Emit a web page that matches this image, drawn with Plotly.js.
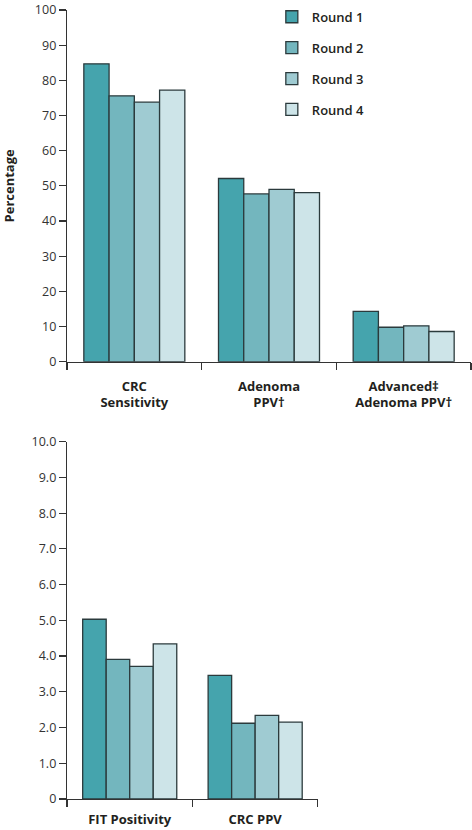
<!DOCTYPE html>
<html>
<head>
<meta charset="utf-8">
<script src="https://cdn.plot.ly/plotly-3.0.1.min.js"></script>
<style>html,body{margin:0;padding:0;background:#fff}#chart{width:472px;height:830px}</style>
</head>
<body>
<div id="chart"></div>
<script>
// Data
var roundNames = ["Round 1", "Round 2", "Round 3", "Round 4"];
var topCategories = ["CRC<br>Sensitivity", "Adenoma<br>PPV†", "Advanced‡<br>Adenoma PPV†"];
var topRound1 = [84.7, 52.1, 14.3];
var topRound2 = [75.6, 47.7, 9.8];
var topRound3 = [73.8, 49.0, 10.2];
var topRound4 = [77.2, 48.1, 8.6];
var bottomCategories = ["FIT Positivity", "CRC PPV"];
var bottomRound1 = [5.03, 3.46];
var bottomRound2 = [3.91, 2.12];
var bottomRound3 = [3.71, 2.34];
var bottomRound4 = [4.34, 2.15];
var topTickVals = [0, 10, 20, 30, 40, 50, 60, 70, 80, 90, 100];
var topTickText = ["0", "10", "20", "30", "40", "50", "60", "70", "80", "90", "100"];
var bottomTickVals = [0, 1, 2, 3, 4, 5, 6, 7, 8, 9, 10];
var bottomTickText = ["0", "1.0", "2.0", "3.0", "4.0", "5.0", "6.0", "7.0", "8.0", "9.0", "10.0"];

var colors = ["#45a4ad", "#73b6be", "#9fcbd2", "#cde4e8"];
var edge = "#2b3a3c";
var topSeries = [topRound1, topRound2, topRound3, topRound4];
var bottomSeries = [bottomRound1, bottomRound2, bottomRound3, bottomRound4];

var FONT = "Open Sans, Noto Sans, sans-serif";
var traces = [];
for (var i = 0; i < 4; i++) {
  traces.push({
    type: "bar", name: roundNames[i], x: topCategories, y: topSeries[i],
    xaxis: "x", yaxis: "y", legendgroup: "g" + i,
    marker: {color: colors[i], line: {color: edge, width: 1.3}},
    hoverinfo: "skip"
  });
}
for (var j = 0; j < 4; j++) {
  traces.push({
    type: "bar", name: roundNames[j], x: bottomCategories, y: bottomSeries[j],
    xaxis: "x2", yaxis: "y2", legendgroup: "g" + j, showlegend: false,
    marker: {color: colors[j], line: {color: edge, width: 1.3}},
    hoverinfo: "skip"
  });
}

var axisCommon = {
  showline: true, linecolor: "#333", linewidth: 1.2,
  ticks: "outside", ticklen: 7, tickcolor: "#333", tickwidth: 1.2,
  showgrid: false, zeroline: false, fixedrange: true,
  ticklabeloverflow: "allow"
};

var layout = {
  width: 472, height: 830,
  margin: {l: 67, r: 1, t: 10, b: 31},
  paper_bgcolor: "#fff", plot_bgcolor: "#fff",
  font: {family: FONT, color: "#231f20", size: 13},
  barmode: "group", bargap: 0.25, bargroupgap: 0,
  showlegend: true,
  legend: {
    x: 0.507, y: 1.0104, xanchor: "left", yanchor: "top",
    traceorder: "grouped", tracegroupgap: 11,
    font: {family: FONT, size: 13, color: "#231f20", weight: 600},
    bgcolor: "rgba(0,0,0,0)"
  },
  xaxis: Object.assign({}, axisCommon, {
    domain: [0, 1], anchor: "y", type: "category", tickson: "boundaries",
    range: [-0.5, 2.5], ticklabelstandoff: 12,
    tickfont: {family: FONT, size: 13, color: "#231f20", weight: 700}
  }),
  yaxis: Object.assign({}, axisCommon, {
    domain: [0.5542, 1], anchor: "x", range: [0, 100],
    tickvals: topTickVals, ticktext: topTickText,
    tickfont: {family: FONT, size: 12.5, color: "#333"},
    title: {text: "Percentage", font: {family: FONT, size: 13, weight: 700, color: "#231f20"}, standoff: 26}
  }),
  xaxis2: Object.assign({}, axisCommon, {
    domain: [0, 0.621], anchor: "y2", type: "category", tickson: "boundaries",
    range: [-0.5, 1.5], ticklabelstandoff: 8,
    tickfont: {family: FONT, size: 13, color: "#231f20", weight: 700}
  }),
  yaxis2: Object.assign({}, axisCommon, {
    domain: [0, 0.4529], anchor: "x2", range: [0, 10],
    tickvals: bottomTickVals, ticktext: bottomTickText,
    tickfont: {family: FONT, size: 12.5, color: "#333"}
  })
};

Plotly.newPlot("chart", traces, layout, {displayModeBar: false, staticPlot: true});
</script>
</body>
</html>
